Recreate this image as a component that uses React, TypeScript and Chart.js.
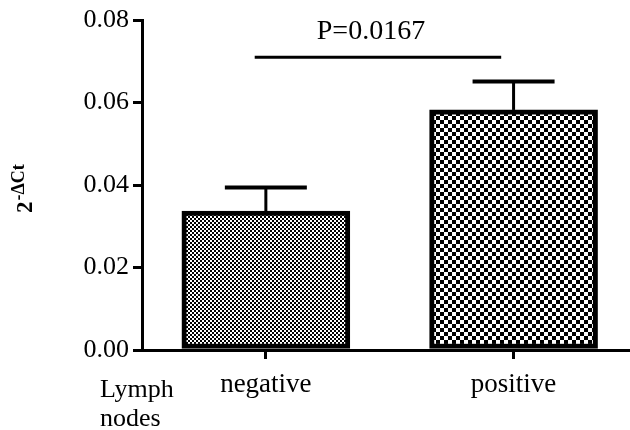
import React, { useEffect, useRef } from 'react';
import { Chart, registerables } from 'chart.js';

Chart.register(...registerables);

const categories = ['negative', 'positive'];
const means = [0.0337, 0.0582];
const sems = [0.0057, 0.0069];
const yTickValues = [0, 0.02, 0.04, 0.06, 0.08];
const pValueLabel = 'P=0.0167';
const sigBracketX = [0.955, 1.95];
const sigBracketY = 0.071;
const groupLabelLines = ['Lymph', 'nodes'];

const SERIF = "'Liberation Serif', 'Times New Roman', serif";

function makeChecker(size: number): CanvasPattern | string {
  const c = document.createElement('canvas');
  c.width = size * 2;
  c.height = size * 2;
  const g = c.getContext('2d');
  if (!g) return '#888';
  g.fillStyle = '#fff';
  g.fillRect(0, 0, size * 2, size * 2);
  g.fillStyle = '#000';
  g.fillRect(0, 0, size, size);
  g.fillRect(size, size, size, size);
  const p = g.createPattern(c, 'repeat');
  return p || '#888';
}

const annotations = {
  id: 'annotations',
  afterDatasetsDraw(chart: any) {
    const { ctx, scales } = chart;
    const x = scales.x;
    const y = scales.y;
    ctx.save();
    ctx.strokeStyle = '#000';
    ctx.lineCap = 'butt';
    // error bars
    means.forEach((m, i) => {
      const cx = x.getPixelForValue(i + 1);
      const top = y.getPixelForValue(m);
      const ey = y.getPixelForValue(m + sems[i]);
      ctx.lineWidth = 3;
      ctx.beginPath();
      ctx.moveTo(cx, top);
      ctx.lineTo(cx, ey);
      ctx.stroke();
      ctx.lineWidth = 4;
      ctx.beginPath();
      ctx.moveTo(cx - 41, ey);
      ctx.lineTo(cx + 41, ey);
      ctx.stroke();
    });
    // significance line
    const sx1 = x.getPixelForValue(sigBracketX[0]);
    const sx2 = x.getPixelForValue(sigBracketX[1]);
    const sy = y.getPixelForValue(sigBracketY);
    ctx.lineWidth = 3;
    ctx.beginPath();
    ctx.moveTo(sx1, sy);
    ctx.lineTo(sx2, sy);
    ctx.stroke();
    ctx.fillStyle = '#000';
    ctx.font = `28px ${SERIF}`;
    ctx.textAlign = 'center';
    ctx.textBaseline = 'alphabetic';
    ctx.fillText(pValueLabel, (sx1 + sx2) / 2 - 7, sy - 18);
    ctx.restore();
  },
  afterDraw(chart: any) {
    const { ctx } = chart;
    ctx.save();
    ctx.fillStyle = '#000';
    // y-axis title 2^-ΔCt
    ctx.translate(32, 213);
    ctx.rotate(-Math.PI / 2);
    ctx.textAlign = 'left';
    ctx.textBaseline = 'alphabetic';
    ctx.font = `bold 23px ${SERIF}`;
    ctx.fillText('2', 0, 0);
    const w = ctx.measureText('2').width;
    ctx.font = `bold 18px ${SERIF}`;
    ctx.fillText('-ΔCt', w + 1, -8);
    ctx.restore();
    // group label
    ctx.save();
    ctx.fillStyle = '#000';
    ctx.font = `26px ${SERIF}`;
    ctx.textAlign = 'left';
    ctx.textBaseline = 'alphabetic';
    ctx.fillText(groupLabelLines[0], 100, 397);
    ctx.fillText(groupLabelLines[1], 100, 426);
    ctx.restore();
  },
};

export default function App() {
  const ref = useRef<HTMLCanvasElement>(null);
  useEffect(() => {
    if (!ref.current) return;
    const patterns = [makeChecker(2), makeChecker(4)];
    const chart = new Chart(ref.current, {
      type: 'bar',
      data: {
        datasets: [
          {
            data: means.map((v, i) => ({ x: i + 1, y: v })),
            backgroundColor: patterns as any,
            borderColor: '#000',
            borderWidth: 5,
            borderSkipped: false,
            barThickness: 168,
          } as any,
        ],
      },
      options: {
        responsive: false,
        animation: false,
        layout: { padding: { top: 20, right: 0, left: 0, bottom: 0 } },
        plugins: { legend: { display: false }, tooltip: { enabled: false } },
        scales: {
          x: {
            type: 'linear',
            min: 0.5,
            max: 2.47,
            offset: false,
            afterBuildTicks: (s: any) => {
              s.ticks = categories.map((_, i) => ({ value: i + 1 }));
            },
            afterFit: (s: any) => {
              s.height = 80;
            },
            ticks: {
              autoSkip: false,
              maxRotation: 0,
              padding: 10,
              color: '#000',
              font: { family: SERIF, size: 27 },
              callback: (v: any) => categories[Number(v) - 1] ?? '',
            },
            grid: {
              offset: false,
              drawOnChartArea: false,
              drawTicks: true,
              tickLength: 9,
              color: '#000',
              lineWidth: 3,
            },
            border: { display: true, color: '#000', width: 3 },
          },
          y: {
            min: 0,
            max: 0.08,
            afterBuildTicks: (s: any) => {
              s.ticks = yTickValues.map((v) => ({ value: v }));
            },
            afterFit: (s: any) => {
              s.width = 142;
            },
            ticks: {
              padding: 4,
              color: '#000',
              font: { family: SERIF, size: 26 },
              callback: (v: any) => Number(v).toFixed(2),
            },
            grid: {
              drawOnChartArea: false,
              drawTicks: true,
              tickLength: 9,
              color: '#000',
              lineWidth: 3,
            },
            border: { display: true, color: '#000', width: 3 },
          },
        },
      } as any,
      plugins: [annotations],
    });
    return () => chart.destroy();
  }, []);
  return (
    <div style={{ position: 'fixed', left: 0, top: 0, width: 630, height: 430, background: '#fff' }}>
      <canvas ref={ref} width={630} height={430} style={{ display: 'block' }} />
    </div>
  );
}
